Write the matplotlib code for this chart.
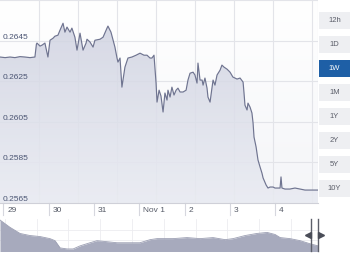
import numpy as np
import matplotlib
matplotlib.use("Agg")
import matplotlib.pyplot as plt
from matplotlib import transforms
from matplotlib.colors import LinearSegmentedColormap
from matplotlib.patches import Rectangle

plt.rcParams['font.family'] = ['Liberation Sans', 'DejaVu Sans']

# hours since Oct 29 00:00 and the exchange rate at that time
HOURS = [-1.8, 0.9, 3.5, 6.1, 8.8, 11.4, 14.1, 16.7, 17.5, 17.8, 19.4, 20.5, 22.0,
         23.6, 24.7, 26.3, 27.3, 28.9, 30.0, 31.6, 32.6, 33.7, 35.3, 36.3, 37.9,
         39.0, 40.6, 42.2, 43.8, 44.3, 45.9, 47.5, 48.5, 51.2, 52.8, 54.9, 55.4,
         57.0, 59.1, 60.2, 60.7, 61.8, 62.8, 64.4, 66.0, 68.1, 70.3, 72.4, 74.5,
         76.1, 77.7, 78.7, 79.8, 80.9, 81.4, 82.5, 83.5, 84.6, 85.6, 86.7, 87.2,
         88.3, 89.3, 90.4, 91.5, 92.5, 93.6, 95.2, 96.8, 97.8, 98.9, 100.5, 101.5,
         102.6, 103.1, 104.2, 105.3, 105.8, 106.8, 107.9, 108.4, 109.5, 110.5,
         111.1, 112.1, 113.2, 114.8, 115.8, 116.9, 118.5, 120.1, 121.6, 123.8,
         125.4, 127.0, 127.5, 128.0, 129.1, 129.6, 130.7, 131.7, 132.3, 132.8,
         133.9, 134.9, 136.0, 137.0, 137.6, 139.2, 140.2, 141.3, 142.9, 143.9,
         145.5, 146.6, 147.1, 147.6, 149.2, 151.8, 154.5, 157.2, 159.8, 162.5,
         165.1, 166.7]
RATES = [0.26370, 0.26367, 0.26370, 0.26367, 0.26372, 0.26370, 0.26367, 0.26370,
         0.26434, 0.26439, 0.26424, 0.26429, 0.26439, 0.26370, 0.26453, 0.26463,
         0.26473, 0.26478, 0.26503, 0.26537, 0.26493, 0.26518, 0.26493, 0.26513,
         0.26468, 0.26404, 0.26488, 0.26404, 0.26439, 0.26458, 0.26444, 0.26419,
         0.26453, 0.26458, 0.26468, 0.26513, 0.26523, 0.26493, 0.26419, 0.26365,
         0.26345, 0.26365, 0.26221, 0.26320, 0.26365, 0.26370, 0.26379, 0.26389,
         0.26379, 0.26379, 0.26365, 0.26365, 0.26379, 0.26241, 0.26147, 0.26206,
         0.26177, 0.26098, 0.26192, 0.26157, 0.26206, 0.26172, 0.26221, 0.26182,
         0.26206, 0.26216, 0.26197, 0.26197, 0.26206, 0.26256, 0.26290, 0.26295,
         0.26281, 0.26241, 0.26340, 0.26256, 0.26256, 0.26231, 0.26266, 0.26216,
         0.26172, 0.26147, 0.26216, 0.26256, 0.26231, 0.26281, 0.26305, 0.26330,
         0.26320, 0.26310, 0.26295, 0.26271, 0.26261, 0.26266, 0.26246, 0.26192,
         0.26132, 0.26108, 0.26142, 0.26122, 0.26093, 0.26043, 0.25974, 0.25925,
         0.25861, 0.25826, 0.25796, 0.25772, 0.25737, 0.25722, 0.25727, 0.25727,
         0.25722, 0.25722, 0.25722, 0.25777, 0.25722, 0.25717, 0.25717, 0.25722,
         0.25717, 0.25712, 0.25712, 0.25712, 0.25712]

DAY_TICKS = [0, 24, 48, 72, 96, 120, 144]
DAY_LABELS = ["29", "30", "31", "Nov 1", "2", "3", "4"]
GRID_LEVELS = [0.2565, 0.2585, 0.2605, 0.2625, 0.2645, 0.2665]
LABEL_LEVELS = [0.2565, 0.2585, 0.2605, 0.2625, 0.2645]

RANGE_BUTTONS = ["12h", "1D", "1W", "1M", "1Y", "2Y", "5Y", "10Y"]
SELECTED = "1W"

# long history shown in the navigator strip
NAV_YEARS = [2014.85, 2015.16, 2015.48, 2015.79, 2016.11, 2016.42, 2016.58, 2016.74,
             2016.96, 2017.15, 2017.37, 2017.68, 2017.90, 2018.22, 2018.53, 2018.94,
             2019.25, 2019.57, 2019.79, 2020.29, 2020.73, 2021.14, 2021.55, 2021.93,
             2022.18, 2022.56, 2022.93, 2023.25, 2023.50, 2023.66, 2023.97, 2024.29,
             2024.60, 2024.85]
NAV_RATES = [0.2900, 0.2795, 0.2705, 0.2675, 0.2660, 0.2630, 0.2600, 0.2495,
             0.2480, 0.2480, 0.2525, 0.2570, 0.2600, 0.2585, 0.2570, 0.2570,
             0.2570, 0.2615, 0.2630, 0.2630, 0.2645, 0.2630, 0.2645, 0.2615,
             0.2630, 0.2675, 0.2705, 0.2720, 0.2690, 0.2645, 0.2630, 0.2600,
             0.2555, 0.2525]
NAV_WINDOW = [2024.63, 2024.85]

W, H = 350, 256


def px_box(x0, y0, x1, y1):
    return [x0 / W, 1 - y1 / H, (x1 - x0) / W, (y1 - y0) / H]


fig = plt.figure(figsize=(3.5, 2.56), dpi=100)
fig.patch.set_facecolor("white")

# background panel with its own vertical grid
bg = fig.add_axes(px_box(0, 0, 318, 203))
bg.set_xlim(0, 318)
bg.set_ylim(203, 0)
bg.axis("off")
bg.imshow(np.linspace(0, 1, 100)[:, None], aspect="auto", extent=[0, 318, 203, 0],
          cmap=LinearSegmentedColormap.from_list("bg", ["#ffffff", "#f4f5f8"]))
for gx in range(39, 318, 39):
    bg.axvline(gx, color="#e3e4e9", lw=0.8)
bg.axvline(317.5, color="#e3e4e9", lw=0.8)

# main price axes
ax = fig.add_axes(px_box(0, 0, 318, 203))
ax.set_facecolor("none")
ax.set_yticks(GRID_LEVELS)
ax.set_xticks([])
ax.tick_params(length=0, labelleft=False)
ax.grid(axis="y", color="#e3e4e9", lw=0.8)
ax.set_axisbelow(True)
for s in ["top", "left", "right"]:
    ax.spines[s].set_visible(False)
ax.spines["bottom"].set_color("#cfd0d8")
ax.spines["bottom"].set_linewidth(0.8)

area = ax.fill_between(HOURS, RATES, 0.25, color="none", lw=0)
grad = ax.imshow(np.linspace(0, 1, 200)[:, None], aspect="auto", origin="upper",
                 extent=[HOURS[0], HOURS[-1], 0.25648, 0.26652],
                 cmap=LinearSegmentedColormap.from_list("fill", ["#cdd0df", "#e9ebf2"]),
                 alpha=0.85, zorder=1)
grad.set_clip_path(area.get_paths()[0], transform=ax.transData)
ax.set_xlim(HOURS[0], HOURS[-1])
ax.set_ylim(0.25648, 0.26652)
ax.plot(HOURS, RATES, color="#6f7490", lw=0.85, zorder=3)

ylab = transforms.blended_transform_factory(ax.transAxes, ax.transData)
for v in LABEL_LEVELS:
    ax.text(0.008, v, f"{v:.4f}", transform=ylab, va="bottom", ha="left",
            fontsize=6, color="#4b5573", zorder=4)

xlab = transforms.blended_transform_factory(ax.transData, ax.transAxes)
for d, lab in zip(DAY_TICKS, DAY_LABELS):
    ax.plot([d, d], [0, -12 / 203], transform=xlab, clip_on=False,
            color="#d6d7de", lw=0.8)
    ax.text(d, -7 / 203, lab, fontsize=6, color="#555a66", va="center", ha="left",
            transform=transforms.offset_copy(xlab, fig=fig, x=4, units="dots"))

# navigator strip
nav = fig.add_axes(px_box(0, 219, 318, 251))
nav.set_xlim(NAV_YEARS[0], NAV_YEARS[-1])
nav.set_ylim(0.2450, 0.2915)
nav.set_xticks(np.arange(2015, 2025, 1))
nav.set_yticks([0.2605, 0.2760])
nav.tick_params(length=0, labelbottom=False, labelleft=False)
nav.grid(color="#ececf0", lw=0.6)
nav.set_axisbelow(True)
for s in nav.spines.values():
    s.set_visible(False)
nav.fill_between(NAV_YEARS, NAV_RATES, 0.24, color="#a7aabd", lw=0)
nav.plot(NAV_YEARS, NAV_RATES, color="#9c9fb3", lw=0.6)
for xv in NAV_WINDOW:
    nav.axvline(xv, color="#5c5f6a", lw=1.0, clip_on=False)
nav.plot([NAV_WINDOW[0] - 0.1], [0.2680], marker="<", ms=4, color="#4a4d58", clip_on=False)
nav.plot([NAV_WINDOW[1] + 0.1], [0.2680], marker=">", ms=4, color="#4a4d58", clip_on=False)

# range selector buttons
btn = fig.add_axes([0, 0, 1, 1])
btn.set_xlim(0, W)
btn.set_ylim(H, 0)
btn.axis("off")
for i, lab in enumerate(RANGE_BUTTONS):
    cy = 20 + 24.1 * i
    sel = lab == SELECTED
    btn.add_patch(Rectangle((319, cy - 8.5), 31, 17, lw=0,
                            facecolor="#1e5fa6" if sel else "#eeeff2"))
    btn.text(334.5, cy, lab, ha="center", va="center", fontsize=5.5,
             color="white" if sel else "#5a5d68")

fig.savefig("out.png", dpi=100)
